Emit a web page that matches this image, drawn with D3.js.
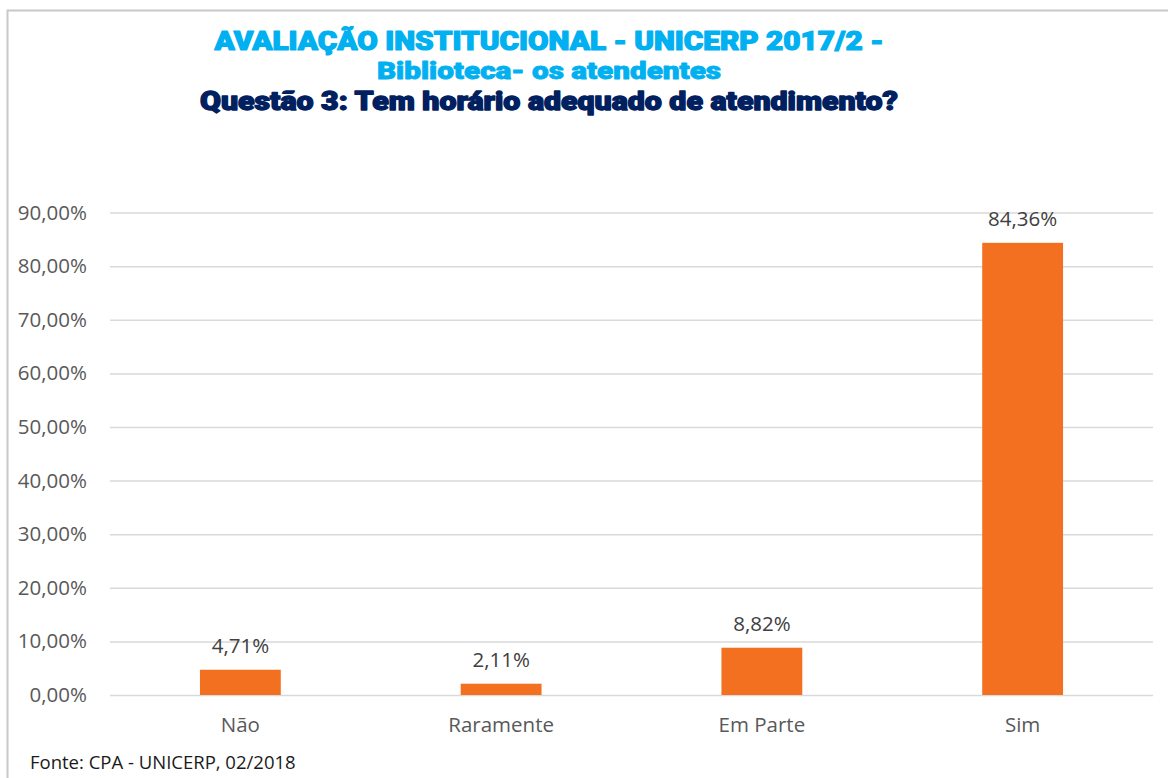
<!DOCTYPE html>
<html><head><meta charset="utf-8">
<script src="https://cdn.jsdelivr.net/npm/d3@7"></script>
<style>
html,body{margin:0;padding:0;background:#fff;}
svg{display:block;}
</style></head>
<body>
<svg id="chart" width="1168" height="778"></svg>
<script>
const categories = ["Não", "Raramente", "Em Parte", "Sim"];
const values = [4.71, 2.11, 8.82, 84.36];
const valueLabels = ["4,71%", "2,11%", "8,82%", "84,36%"];
const yTicks = [0, 10, 20, 30, 40, 50, 60, 70, 80, 90];
const titleLines = ["AVALIAÇÃO INSTITUCIONAL - UNICERP 2017/2 -", "Biblioteca- os atendentes", "Questão 3: Tem horário adequado de atendimento?"];
const sourceText = "Fonte: CPA - UNICERP, 02/2018";

const svg = d3.select("#chart");
const W = 1168, H = 778;
const plot = {left: 110, right: 1153, top: 212.6, bottom: 695};
const bodyFont = "'Open Sans', 'Noto Sans', sans-serif";

// frame
svg.append("path").attr("d", `M7.5,${H} V10.5 H${W}`)
  .attr("fill", "none").attr("stroke", "#c8c8c8").attr("stroke-width", 2);

const x = d3.scaleBand().domain(categories).range([plot.left, plot.right])
  .paddingInner(0.69).paddingOuter(0.345);
const y = d3.scaleLinear().domain([0, 90]).range([plot.bottom, plot.top]);

// grid
const yAxis = d3.axisLeft(y).tickValues(yTicks)
  .tickSize(-(plot.right - plot.left)).tickPadding(23)
  .tickFormat(d => d3.format(".2f")(d).replace(".", ",") + "%");
const gy = svg.append("g").attr("transform", `translate(${plot.left},0)`).call(yAxis);
gy.select(".domain").remove();
gy.selectAll(".tick line").attr("stroke", "#d9d9d9").attr("stroke-width", 1.5);
gy.selectAll(".tick text").attr("fill", "#595959")
  .style("font-family", bodyFont).style("font-size", "20.5px");

// bars
svg.append("g").selectAll("rect").data(values).join("rect")
  .attr("x", (d, i) => x(categories[i]))
  .attr("width", x.bandwidth())
  .attr("y", d => y(d))
  .attr("height", d => y(0) - y(d))
  .attr("fill", "#f37021");

// value labels
svg.append("g").selectAll("text").data(values).join("text")
  .attr("x", (d, i) => x(categories[i]) + x.bandwidth() / 2)
  .attr("y", d => y(d) - 16.5)
  .attr("text-anchor", "middle")
  .attr("fill", "#404040")
  .style("font-family", bodyFont).style("font-size", "20.5px")
  .text((d, i) => valueLabels[i]);

// x axis labels
const xAxis = d3.axisBottom(x).tickSize(0).tickPadding(0);
const gx = svg.append("g").attr("transform", `translate(0,${plot.bottom})`).call(xAxis);
gx.select(".domain").remove();
gx.selectAll(".tick text").attr("dy", null).attr("y", 37).attr("fill", "#595959")
  .style("font-family", bodyFont).style("font-size", "20.5px");

// titles
const tx = 549;
function title(txt, yy, color, size, len, sw) {
  svg.append("text").attr("x", tx).attr("y", yy).attr("text-anchor", "middle")
    .attr("fill", color).attr("stroke", color).attr("stroke-width", sw)
    .attr("stroke-linejoin", "round")
    .style("font-family", "Roboto, 'Noto Sans', sans-serif")
    .style("font-weight", 900).style("font-size", size + "px")
    .attr("textLength", len).attr("lengthAdjust", "spacingAndGlyphs")
    .text(txt);
}
title(titleLines[0], 50, "#00b0f0", 26, 669, 1.2);
title(titleLines[1], 79, "#00b0f0", 23, 344, 0.8);
title(titleLines[2], 110, "#002060", 25, 698, 1.3);

// source
svg.append("text").attr("x", 30).attr("y", 769).attr("fill", "#1a1a1a")
  .style("font-family", bodyFont).style("font-size", "18.5px")
  .text(sourceText);
</script>
</body></html>
